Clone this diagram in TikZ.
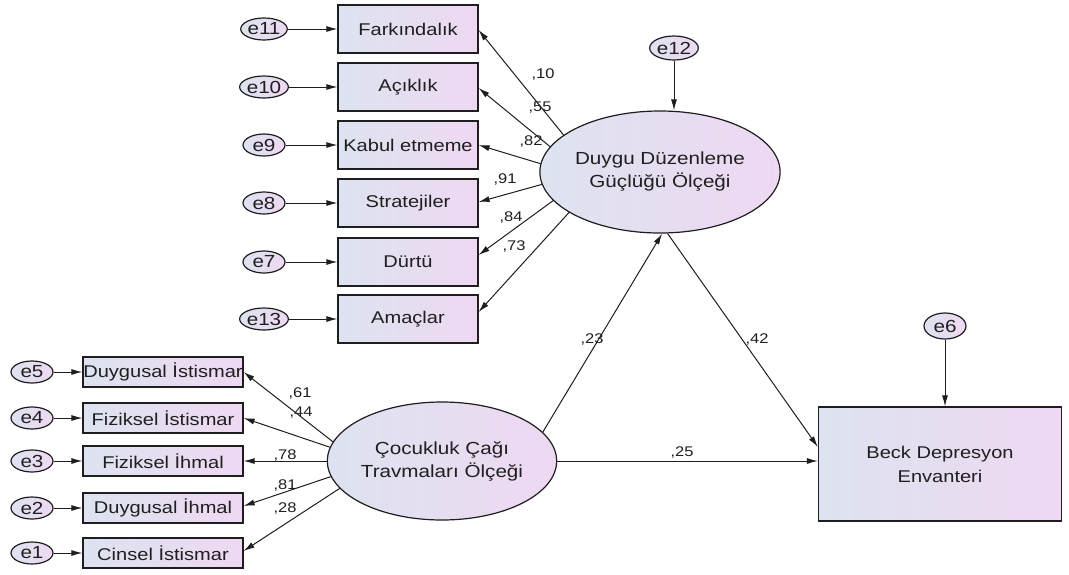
\documentclass[tikz,border=0pt]{standalone}
\usepackage{fontspec}
\setmainfont{Liberation Sans}[FakeStretch=1.18]
\usetikzlibrary{arrows.meta,shapes.geometric,calc}
\definecolor{gl}{RGB}{221,227,240}
\definecolor{gr}{RGB}{238,216,242}
\definecolor{ln}{RGB}{30,30,30}
\tikzset{
 obs/.style={draw=ln, line width=1.2pt, left color=gl, right color=gr, minimum width=140pt, minimum height=48pt, inner sep=0pt, font=\fontsize{17}{20}\selectfont, text=black!88},
 obsb/.style={obs, minimum width=160pt, minimum height=30pt},
 lat/.style={ellipse, draw=ln, line width=1.2pt, left color=gl, right color=gr, inner sep=0pt, align=center, font=\fontsize{17.5}{23}\selectfont, text=black!88},
 err/.style={ellipse, draw=ln, line width=1.2pt, left color=gl, right color=gr, minimum width=42pt, minimum height=22pt, inner sep=0pt, font=\fontsize{17.5}{18}\selectfont, text=black!88},
 arr/.style={draw=ln, line width=1pt, -{Latex[length=11pt,width=6pt]}},
 lbl/.style={font=\fontsize{14}{16}\selectfont, inner sep=0pt, text=black!88}
}
\begin{document}
\begin{tikzpicture}[x=1pt,y=-1pt]
\useasboundingbox (0,0) rectangle (1069,574);
\fill[white] (0,0) rectangle (1069,574);
% top observed
\node[obs] (f1) at (408,29) {Farkındalık};
\node[obs] (f2) at (408,87) {Açıklık};
\node[obs] (f3) at (408,145) {Kabul etmeme};
\node[obs] (f4) at (408,203) {Stratejiler};
\node[obs] (f5) at (408,262) {Dürtü};
\node[obs] (f6) at (408,319) {Amaçlar};
\node[err] (ef1) at (264,29) {e11};
\node[err] (ef2) at (264,87) {e10};
\node[err] (ef3) at (264,145) {e9};
\node[err] (ef4) at (264,203) {e8};
\node[err] (ef5) at (264,262) {e7};
\node[err] (ef6) at (264,319) {e13};
\foreach \i in {1,...,6} \draw[arr] (ef\i.east) -- (f\i.west);
% DDGO
\node[lat, minimum width=206pt, minimum height=122pt] (ddgo) at (660,172) {Duygu Düzenleme\\Güçlüğü Ölçeği};
\node[err, minimum width=46pt, minimum height=24pt] (e12) at (674,48) {e12};
\draw[arr] (e12.south) -- (e12.south |- ddgo.north);
\draw[arr] (ddgo.159) -- ([yshift=-1pt]f1.east);
\draw[arr] (ddgo.167) -- ([yshift=-1pt]f2.east);
\draw[arr] (ddgo.176) -- (f3.east);
\draw[arr] (ddgo.186) -- ([yshift=1pt]f4.east);
\draw[arr] (ddgo.195) -- ([yshift=7pt]f5.east);
\draw[arr] (ddgo.204) -- ([yshift=7pt]f6.east);
\node[lbl] (l10) at (543,75) {,10};
\node[lbl] (l55) at (540,108) {,55};
\node[lbl] (l82) at (531,142) {,82};
\node[lbl] (l91) at (505,180) {,91};
\node[lbl] (l84) at (511,218) {,84};
\node[lbl] (l73) at (514,247) {,73};
% bottom observed
\node[obsb] (c1) at (163,372) {Duygusal İstismar};
\node[obsb] (c2) at (163,418) {Fiziksel İstismar};
\node[obsb] (c3) at (163,461) {Fiziksel İhmal};
\node[obsb] (c4) at (163,508) {Duygusal İhmal};
\node[obsb] (c5) at (163,553) {Cinsel İstismar};
\node[err] (ec1) at (32,372) {e5};
\node[err] (ec2) at (32,418) {e4};
\node[err] (ec3) at (32,461) {e3};
\node[err] (ec4) at (32,508) {e2};
\node[err] (ec5) at (32,553) {e1};
\foreach \i in {1,...,5} \draw[arr] (ec\i.east) -- (c\i.west);
% CCTO
\node[lat, minimum width=228pt, minimum height=118pt] (ccto) at (442,461) {Çocukluk Çağı\\Travmaları Ölçeği};
\draw[arr] (ccto.170) -- (c1.east);
\draw[arr] (ccto.173) -- (c2.east);
\draw[arr] (ccto.west) -- (c3.east);
\draw[arr] (ccto.188) -- ([yshift=2pt]c4.east);
\draw[arr] (ccto.195) -- ([yshift=2pt]c5.east);
\node[lbl] (l61) at (300,394) {,61};
\node[lbl] (l44) at (301,413) {,44};
\node[lbl] (l78) at (285,455) {,78};
\node[lbl] (l81) at (285,485) {,81};
\node[lbl] (l28) at (285,508) {,28};
% Beck
\node[obs, minimum width=243pt, minimum height=114pt, align=center, font=\fontsize{17}{24}\selectfont] (beck) at (940,464) {Beck Depresyon\\Envanteri};
\node[err, minimum height=26pt] (e6) at (945,326) {e6};
\draw[arr] (e6.south) -- (e6.south |- beck.north);
\draw[arr] (ccto.16) -- (ddgo.272);
\draw[arr] (ddgo.277) -- ([yshift=17pt]beck.west);
\draw[arr] (ccto.east) -- (ccto.east -| beck.west);
\node[lbl] (l23) at (592,340) {,23};
\node[lbl] (l42) at (757,340) {,42};
\node[lbl] (l25) at (682,452) {,25};
\end{tikzpicture}
\end{document}
